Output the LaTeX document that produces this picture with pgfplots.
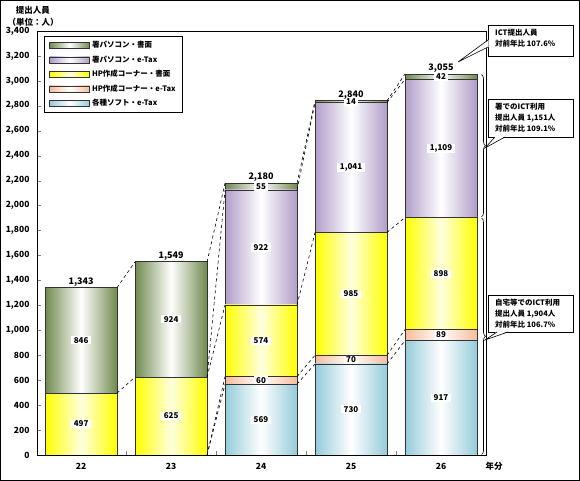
\documentclass[border=0pt]{standalone}
\usepackage{pgfplots}
\pgfplotsset{compat=1.18}
\usepackage{fontspec}
\setmainfont{Noto Sans CJK JP}
\usetikzlibrary{decorations.pathreplacing}
\definecolor{cgreen}{RGB}{112,138,78}
\definecolor{cpurple}{RGB}{176,158,200}
\definecolor{cyellow}{RGB}{255,255,0}
\definecolor{cpeach}{RGB}{248,188,156}
\definecolor{cblue}{RGB}{148,204,218}
\tikzset{
  sh/.style={draw=black!80, line width=0.7pt, left color=#1, right color=#1, middle color=white},
  shy/.style={draw=black!80, line width=0.7pt, left color=#1, right color=#1, middle color=#1!12},
  lab/.style={fill=white, inner xsep=2.5pt, inner ysep=1pt, font=\fontsize{8}{9}\selectfont\bfseries},
  tot/.style={anchor=south, inner sep=1pt, font=\fontsize{9}{10}\selectfont\bfseries},
}
\pgfplotsset{
  frame/.style={at={(37pt,26pt)}, anchor=south west,
    scale only axis, width=449pt, height=424pt,
    xmin=-0.49, xmax=4.5, ymin=0, ymax=3400},
  yr/.style={frame, hide axis, ybar stacked, bar width=0.8},
}
\begin{document}
\begin{tikzpicture}
\useasboundingbox (0pt,0pt) rectangle (580pt,481pt);
% year 22
\begin{axis}[yr]
\addplot[shy=cyellow] coordinates {(0,497)};
\addplot[sh=cgreen] coordinates {(0,846)};
\end{axis}
% year 23
\begin{axis}[yr]
\addplot[shy=cyellow] coordinates {(1,625)};
\addplot[sh=cgreen] coordinates {(1,924)};
\end{axis}
% year 24
\begin{axis}[yr]
\addplot[sh=cblue] coordinates {(2,569)};
\addplot[sh=cpeach] coordinates {(2,60)};
\addplot[shy=cyellow] coordinates {(2,574)};
\addplot[sh=cpurple] coordinates {(2,922)};
\addplot[sh=cgreen] coordinates {(2,55)};
\end{axis}
% year 25
\begin{axis}[yr]
\addplot[sh=cblue] coordinates {(3,730)};
\addplot[sh=cpeach] coordinates {(3,70)};
\addplot[shy=cyellow] coordinates {(3,985)};
\addplot[sh=cpurple] coordinates {(3,1041)};
\addplot[sh=cgreen] coordinates {(3,14)};
\end{axis}
% year 26 (carries the legend)
\begin{axis}[yr,
  legend style={at={(rel axis cs:0.0156,0.988)}, anchor=north west,
    draw=black, line width=0.8pt, font=\fontsize{7.5}{8}\selectfont\bfseries,
    row sep=2.5pt, inner xsep=5pt, inner ysep=3pt, cells={anchor=west}},
  reverse legend,
  every axis plot post/.append style={legend image code/.code={\draw[##1,line width=0.6pt] (0pt,-3pt) rectangle (40pt,3pt);}},
]
\addplot[sh=cblue] coordinates {(4,917)};
\addlegendentry{各種ソフト・e-Tax}
\addplot[sh=cpeach] coordinates {(4,89)};
\addlegendentry{HP作成コーナー・e-Tax}
\addplot[shy=cyellow] coordinates {(4,898)};
\addlegendentry{HP作成コーナー・書面}
\addplot[sh=cpurple] coordinates {(4,1109)};
\addlegendentry{署パソコン・e-Tax}
\addplot[sh=cgreen] coordinates {(4,42)};
\addlegendentry{署パソコン・書面}
\end{axis}
% axes, ticks, connectors, labels
\begin{axis}[frame,
  axis line style={line width=0.8pt},
  clip=false, unbounded coords=jump,
  xtick pos=left, ytick pos=left,
  xtick={0,1,2,3,4}, xticklabels={22,23,24,25,26},
  major x tick style={draw=none},
  minor xtick={0.5,1.5,2.5,3.5},
  ytick={0,200,...,3400},
  tick align=inside, major tick length=4pt, minor tick length=4pt,
  scaled y ticks=false,
  /pgf/number format/assume math mode=true,
  /pgf/number format/1000 sep={,},
  tick label style={font=\fontsize{8.5}{10}\selectfont\bfseries},
  xticklabel style={yshift=-5pt},
  yticklabel style={xshift=-4pt},
]
\addplot[black, dashed, line width=0.6pt, mark=none] coordinates {(0.4,497)(0.6,625)(1,nan)(1.4,625)(1.6,1203)(2,nan)(2.4,1203)(2.6,1785)(3,nan)(3.4,1785)(3.6,1904)};
\addplot[black, dashed, line width=0.6pt, mark=none] coordinates {(1.4,625)(1.6,2125)(2,nan)(2.4,2125)(2.6,2826)(3,nan)(3.4,2826)(3.6,3013)};
\addplot[black, dashed, line width=0.6pt, mark=none] coordinates {(0.4,1343)(0.6,1549)(1,nan)(1.4,1549)(1.6,2180)(2,nan)(2.4,2180)(2.6,2840)(3,nan)(3.4,2840)(3.6,3055)};
\addplot[black, dashed, line width=0.6pt, mark=none] coordinates {(1.4,0)(1.6,569)(2,nan)(2.4,569)(2.6,730)(3,nan)(3.4,730)(3.6,917)};
\addplot[black, dashed, line width=0.6pt, mark=none] coordinates {(1.4,0)(1.6,629)(2,nan)(2.4,629)(2.6,800)(3,nan)(3.4,800)(3.6,1006)};
% segment labels
\node[lab] at (axis cs:0,248.5) {497};
\node[lab] at (axis cs:0,920) {846};
\node[lab] at (axis cs:1,312.5) {625};
\node[lab] at (axis cs:1,1087) {924};
\node[lab] at (axis cs:2,284.5) {569};
\node[lab] at (axis cs:2,599) {60};
\node[lab] at (axis cs:2,916) {574};
\node[lab] at (axis cs:2,1664) {922};
\node[lab] at (axis cs:2,2152.5) {55};
\node[lab] at (axis cs:3,365) {730};
\node[lab] at (axis cs:3,765) {70};
\node[lab] at (axis cs:3,1292.5) {985};
\node[lab] at (axis cs:3,2305.5) {1,041};
\node[lab] at (axis cs:3,2833) {14};
\node[lab] at (axis cs:4,458.5) {917};
\node[lab] at (axis cs:4,961.5) {89};
\node[lab] at (axis cs:4,1455) {898};
\node[lab] at (axis cs:4,2458.5) {1,109};
\node[lab] at (axis cs:4,3034) {42};
% totals
\node[tot] at (axis cs:0,1343) {1,343};
\node[tot] at (axis cs:1,1549) {1,549};
\node[tot] at (axis cs:2,2180) {2,180};
\node[tot] at (axis cs:3,2840) {2,840};
\node[tot] at (axis cs:4,3055) {3,055};
% braces
\draw[decorate, decoration={brace, amplitude=4pt}, line width=0.6pt] (axis cs:4.45,3050) -- (axis cs:4.45,1910);
\draw[decorate, decoration={brace, amplitude=4pt}, line width=0.6pt] (axis cs:4.45,1900) -- (axis cs:4.45,4);
\end{axis}
\begin{scope}[x=1pt,y=1pt]
\draw[line width=0.8pt] (0.4,0.4) rectangle (579.6,480.6);
\node[font=\fontsize{8.5}{10}\selectfont\bfseries] at (33,471) {提出人員};
\node[font=\fontsize{8.5}{10}\selectfont\bfseries] at (33,459) {（単位：人）};
\node[font=\fontsize{8.5}{10}\selectfont\bfseries] at (494,15) {年分};
% callout 1
\draw[line width=0.6pt, fill=white] (488,425) rectangle (573,456);
\fill[white] (488.6,441) -- (458,419) -- (488.6,434) -- cycle;
\draw[line width=0.6pt] (488,441) -- (458,419) -- (488,434);
\node[anchor=north west, align=left, inner sep=0pt, font=\fontsize{7.5}{11}\selectfont\bfseries] at (495,452) {ICT提出人員\\対前年比 107.6\%};
% callout 2
\draw[line width=0.6pt, fill=white] (488,344) rectangle (573,382);
\fill[white] (495,344.6) -- (485,333) -- (505,344.6) -- cycle;
\draw[line width=0.6pt] (495,344) -- (485,333) -- (505,344);
\node[anchor=north west, align=left, inner sep=0pt, font=\fontsize{7.5}{11}\selectfont\bfseries] at (495,378) {署でのICT利用\\提出人員 1,151人\\対前年比 109.1\%};
% callout 3
\draw[line width=0.6pt, fill=white] (488,149) rectangle (573,186);
\fill[white] (497,149.6) -- (485,141) -- (508,149.6) -- cycle;
\draw[line width=0.6pt] (497,149) -- (485,141) -- (508,149);
\node[anchor=north west, align=left, inner sep=0pt, font=\fontsize{7.5}{11}\selectfont\bfseries] at (495,182) {自宅等でのICT利用\\提出人員 1,904人\\対前年比 106.7\%};
\end{scope}
\end{tikzpicture}
\end{document}
